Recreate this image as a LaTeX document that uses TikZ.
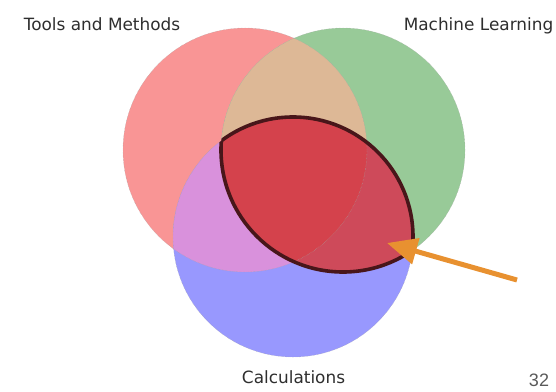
\documentclass[tikz,border=0pt]{standalone}
\usepackage{fontspec}
\setmainfont{DejaVu Sans}
\newfontfamily\pagefont{Liberation Sans}
\usepackage{tikz}
\usetikzlibrary{arrows.meta,calc}
\definecolor{tmred}{RGB}{249,149,149}
\definecolor{mlgreen}{RGB}{152,202,152}
\definecolor{cablue}{RGB}{152,152,254}
\definecolor{tmml}{RGB}{221,184,150}
\definecolor{tmca}{RGB}{217,145,220}
\definecolor{mlca}{RGB}{206,74,90}
\definecolor{allthree}{RGB}{212,66,76}
\definecolor{lensline}{RGB}{72,22,26}
\definecolor{pointer}{RGB}{232,145,48}
\newcommand \myvennset[5]
{
\coordinate (#1) at (#2,#3);
\fill[#5] (#1) circle (#4);
}
\tikzset{
vedge/.style={draw=gray!70, densely dotted, line width=0.4pt},
vlabel/.style={text=black!82, inner sep=0pt, anchor=base, font=\fontsize{16.9}{20}\selectfont},
lensedge/.style={draw=lensline, line width=3.6pt},
pointerline/.style={draw=pointer, line width=5pt, -{Triangle[length=30pt,width=26pt]}}
}
\begin{document}
\begin{tikzpicture}[line join=round, x=1pt, y=-1pt]
\useasboundingbox (0,0) rectangle (556,391);
\myvennset{R}{245}{150}{122}{tmred}
\myvennset{G}{343}{150}{122}{mlgreen}
\myvennset{B}{293}{237}{120}{cablue}
% overlaps
\begin{scope}
\clip (R) circle (122);
\fill[tmml] (G) circle (122);
\fill[tmca] (B) circle (120);
\end{scope}
\begin{scope}
\clip (G) circle (122);
\fill[mlca] (B) circle (120);
\clip (R) circle (122);
\fill[allthree] (B) circle (120);
\end{scope}
\foreach \c/\r in {R/122,G/122,B/120} {\draw[vedge] (\c) circle (\r);}
% highlighted lens
\begin{scope}
\clip (G) circle (122);
\draw[lensedge] (B) circle (120);
\end{scope}
\begin{scope}
\clip (B) circle (120);
\draw[lensedge] (G) circle (122);
\end{scope}
\coordinate (tail) at (517,280);
\coordinate (tip) at (387,243);
\draw[pointerline] (tail) -- (tip);
\node[vlabel] (tm) at (102,30) {Tools and Methods};
\node[vlabel] (ml) at (478.5,30) {Machine Learning};
\node[vlabel] (ca) at (293.5,383) {Calculations};
\node[inner sep=0pt, anchor=base, text=black!65, font=\pagefont\fontsize{18}{20}\selectfont] (pg) at (539,386) {32};
\end{tikzpicture}
\end{document}
